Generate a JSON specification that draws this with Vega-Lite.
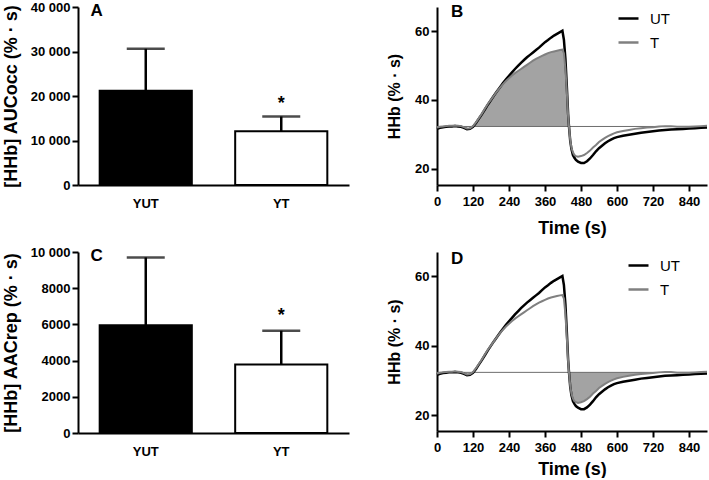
{
  "$schema": "https://vega.github.io/schema/vega-lite/v6.json",
  "padding": {"left": 2, "top": 1, "right": 2, "bottom": 0},
  "background": "white",
  "datasets": {
    "auc": [
      {"group": "YUT", "mean": 21200, "upper": 30600, "sig": ""},
      {"group": "YT", "mean": 12100, "upper": 15400, "sig": "*"}
    ],
    "aac": [
      {"group": "YUT", "mean": 5950, "upper": 9700, "sig": ""},
      {"group": "YT", "mean": 3780, "upper": 5650, "sig": "*"}
    ],
    "hhb": [
      {"t": 0, "UT": 31.6, "T": 32.0},
      {"t": 10, "UT": 31.9, "T": 32.2},
      {"t": 20, "UT": 32.1, "T": 32.3},
      {"t": 30, "UT": 32.2, "T": 32.4},
      {"t": 40, "UT": 32.3, "T": 32.5},
      {"t": 50, "UT": 32.3, "T": 32.5},
      {"t": 60, "UT": 32.4, "T": 32.6},
      {"t": 70, "UT": 32.3, "T": 32.5},
      {"t": 80, "UT": 32.2, "T": 32.4},
      {"t": 90, "UT": 31.9, "T": 32.1},
      {"t": 100, "UT": 31.5, "T": 31.7},
      {"t": 110, "UT": 31.6, "T": 31.8},
      {"t": 120, "UT": 32.2, "T": 32.4},
      {"t": 130, "UT": 33.3, "T": 33.5},
      {"t": 140, "UT": 34.6, "T": 34.8},
      {"t": 150, "UT": 35.9, "T": 36.1},
      {"t": 160, "UT": 37.3, "T": 37.5},
      {"t": 170, "UT": 38.7, "T": 38.9},
      {"t": 180, "UT": 40.0, "T": 40.1},
      {"t": 190, "UT": 41.3, "T": 41.3},
      {"t": 200, "UT": 42.5, "T": 42.5},
      {"t": 210, "UT": 43.7, "T": 43.6},
      {"t": 220, "UT": 44.9, "T": 44.6},
      {"t": 230, "UT": 46.0, "T": 45.5},
      {"t": 240, "UT": 47.0, "T": 46.3},
      {"t": 250, "UT": 48.0, "T": 47.1},
      {"t": 260, "UT": 49.0, "T": 47.8},
      {"t": 270, "UT": 49.9, "T": 48.4},
      {"t": 280, "UT": 50.8, "T": 49.0},
      {"t": 290, "UT": 51.6, "T": 49.6},
      {"t": 300, "UT": 52.4, "T": 50.2},
      {"t": 310, "UT": 53.1, "T": 50.8},
      {"t": 320, "UT": 53.8, "T": 51.4},
      {"t": 330, "UT": 54.5, "T": 51.9},
      {"t": 340, "UT": 55.2, "T": 52.4},
      {"t": 350, "UT": 56.0, "T": 52.8},
      {"t": 360, "UT": 56.8, "T": 53.2},
      {"t": 370, "UT": 57.4, "T": 53.6},
      {"t": 380, "UT": 58.1, "T": 53.9},
      {"t": 390, "UT": 58.7, "T": 54.1},
      {"t": 400, "UT": 59.2, "T": 54.3},
      {"t": 410, "UT": 59.7, "T": 54.5},
      {"t": 418, "UT": 60.1, "T": 54.6},
      {"t": 423, "UT": 57.5, "T": 53.6},
      {"t": 428, "UT": 52.0, "T": 49.0},
      {"t": 433, "UT": 43.5, "T": 42.0},
      {"t": 437, "UT": 36.0, "T": 35.5},
      {"t": 440, "UT": 32.3, "T": 32.3},
      {"t": 444, "UT": 28.2, "T": 28.5},
      {"t": 448, "UT": 25.8, "T": 26.2},
      {"t": 453, "UT": 24.0, "T": 24.8},
      {"t": 458, "UT": 23.2, "T": 24.0},
      {"t": 463, "UT": 22.6, "T": 23.7},
      {"t": 470, "UT": 22.1, "T": 23.5},
      {"t": 480, "UT": 21.7, "T": 23.7},
      {"t": 490, "UT": 21.7, "T": 24.0},
      {"t": 500, "UT": 22.2, "T": 24.6},
      {"t": 510, "UT": 23.0, "T": 25.3},
      {"t": 520, "UT": 24.0, "T": 26.2},
      {"t": 530, "UT": 25.1, "T": 26.9},
      {"t": 540, "UT": 26.0, "T": 27.8},
      {"t": 550, "UT": 26.7, "T": 28.4},
      {"t": 560, "UT": 27.4, "T": 29.0},
      {"t": 570, "UT": 28.0, "T": 29.5},
      {"t": 580, "UT": 28.5, "T": 29.9},
      {"t": 590, "UT": 28.9, "T": 30.3},
      {"t": 600, "UT": 29.2, "T": 30.6},
      {"t": 620, "UT": 29.6, "T": 31.0},
      {"t": 640, "UT": 29.9, "T": 31.3},
      {"t": 660, "UT": 30.2, "T": 31.6},
      {"t": 680, "UT": 30.5, "T": 31.8},
      {"t": 700, "UT": 30.7, "T": 32.0},
      {"t": 720, "UT": 30.9, "T": 32.1},
      {"t": 740, "UT": 31.1, "T": 32.3},
      {"t": 760, "UT": 31.3, "T": 32.4},
      {"t": 780, "UT": 31.4, "T": 32.4},
      {"t": 800, "UT": 31.5, "T": 32.2},
      {"t": 820, "UT": 31.6, "T": 32.2},
      {"t": 840, "UT": 31.7, "T": 32.2},
      {"t": 860, "UT": 31.8, "T": 32.3},
      {"t": 880, "UT": 31.9, "T": 32.4},
      {"t": 900, "UT": 32.0, "T": 32.5}
    ]
  },
  "spacing": -4,
  "resolve": {"scale": {"color": "independent"}, "legend": {"color": "independent"}},
  "vconcat": [
    {
      "spacing": 37,
      "resolve": {"scale": {"color": "independent"}, "legend": {"color": "independent"}},
      "hconcat": [
        {
          "width": 271,
          "height": 178,
          "data": {"name": "auc"},
          "encoding": {
            "x": {"field": "group", "type": "nominal", "sort": ["YUT", "YT"], "scale": {"paddingInner": 0.32, "paddingOuter": 0.16},
                  "axis": {"title": null, "labelAngle": 0, "ticks": false, "labelPadding": 12}}
          },
          "layer": [
            {
              "mark": {"type": "bar", "stroke": "black", "strokeWidth": 2},
              "encoding": {
                "y": {"field": "mean", "type": "quantitative", "scale": {"domain": [0, 40000], "nice": false},
                      "axis": {"title": "[HHb] AUCocc (% · s)", "titleFontSize": 18, "titlePadding": 10, "values": [0, 10000, 20000, 30000, 40000], "labelOverlap": false,
                               "labelExpr": "datum.value >= 10000 ? replace(format(datum.value, ','), ',', ' ') : format(datum.value, 'd')"}},
                "fill": {"field": "group", "type": "nominal", "scale": {"domain": ["YUT", "YT"], "range": ["black", "white"]}, "legend": null}
              }
            },
            {
              "mark": {"type": "rule", "color": "black", "strokeWidth": 2.5},
              "encoding": {"y": {"field": "mean", "type": "quantitative", "axis": {"title": "[HHb] AUCocc (% · s)", "titleFontSize": 18, "titlePadding": 10, "values": [0, 10000, 20000, 30000, 40000], "labelOverlap": false,
                               "labelExpr": "datum.value >= 10000 ? replace(format(datum.value, ','), ',', ' ') : format(datum.value, 'd')"}}, "y2": {"field": "upper"}}
            },
            {
              "mark": {"type": "tick", "color": "black", "thickness": 2.5, "size": 38},
              "encoding": {"y": {"field": "upper", "type": "quantitative", "axis": {"title": "[HHb] AUCocc (% · s)", "titleFontSize": 18, "titlePadding": 10, "values": [0, 10000, 20000, 30000, 40000], "labelOverlap": false,
                               "labelExpr": "datum.value >= 10000 ? replace(format(datum.value, ','), ',', ' ') : format(datum.value, 'd')"}}}
            },
            {
              "mark": {"type": "text", "fontSize": 18, "fontWeight": "bold", "font": "Liberation Sans", "baseline": "alphabetic", "dy": -7, "color": "black"},
              "encoding": {"y": {"field": "upper", "type": "quantitative", "axis": {"title": "[HHb] AUCocc (% · s)", "titleFontSize": 18, "titlePadding": 10, "values": [0, 10000, 20000, 30000, 40000], "labelOverlap": false,
                               "labelExpr": "datum.value >= 10000 ? replace(format(datum.value, ','), ',', ' ') : format(datum.value, 'd')"}}, "text": {"field": "sig"}}
            },
            {
              "transform": [{"filter": "datum.group == 'YUT'"}],
              "mark": {"type": "text", "text": "A", "fontSize": 17, "fontWeight": "bold", "font": "Liberation Sans", "align": "center", "baseline": "top", "dx": -3, "dy": -4, "color": "black"},
              "encoding": {"x": {"datum": "YUT", "bandPosition": 0}, "y": {"datum": 40000, "type": "quantitative", "axis": {"title": "[HHb] AUCocc (% · s)", "titleFontSize": 18, "titlePadding": 10, "values": [0, 10000, 20000, 30000, 40000], "labelOverlap": false,
                               "labelExpr": "datum.value >= 10000 ? replace(format(datum.value, ','), ',', ' ') : format(datum.value, 'd')"}}}
            }
          ]
        },
        {
          "width": 270,
          "height": 178,
          "data": {"name": "hhb"},
          "layer": [
            {
              "transform": [{"filter": "datum.t >= 120 && datum.t <= 440"}],
              "mark": {"type": "area", "color": "#a3a3a3"},
              "encoding": {
                "x": {"field": "t", "type": "quantitative", "scale": {"domain": [0, 900], "nice": false},
                      "axis": {"title": "Time (s)", "titleFontSize": 18, "titlePadding": 11, "values": [0, 120, 240, 360, 480, 600, 720, 840], "labelPadding": 4, "labelOverlap": false}},
                "y": {"field": "T", "type": "quantitative", "scale": {"domain": [15.3, 67], "nice": false},
                      "axis": {"title": "HHb (% · s)", "titleFontSize": 16, "titlePadding": 12, "values": [20, 40, 60], "labelOverlap": false}},
                "y2": {"datum": 32.3}
              }
            },
            {
              "transform": [{"filter": "datum.t == 0"}],
              "mark": {"type": "rule", "color": "#6e6e6e", "strokeWidth": 1},
              "encoding": {"y": {"datum": 32.3, "type": "quantitative",
                      "axis": {"title": "HHb (% · s)", "titleFontSize": 16, "titlePadding": 12, "values": [20, 40, 60], "labelOverlap": false}}}
            },
            {
              "transform": [{"fold": ["UT", "T"], "as": ["cond", "hhb"]}],
              "mark": {"type": "line"},
              "encoding": {
                "x": {"field": "t", "type": "quantitative", "scale": {"domain": [0, 900], "nice": false},
                      "axis": {"title": "Time (s)", "titleFontSize": 18, "titlePadding": 11, "values": [0, 120, 240, 360, 480, 600, 720, 840], "labelPadding": 4, "labelOverlap": false}},
                "y": {"field": "hhb", "type": "quantitative", "scale": {"domain": [15.3, 67], "nice": false},
                      "axis": {"title": "HHb (% · s)", "titleFontSize": 16, "titlePadding": 12, "values": [20, 40, 60], "labelOverlap": false}},
                "strokeWidth": {"field": "cond", "type": "nominal", "scale": {"domain": ["UT", "T"], "range": [2.5, 2]}, "legend": null},
                "color": {"field": "cond", "type": "nominal", "scale": {"domain": ["UT", "T"], "range": ["black", "#808080"]},
                          "legend": {"title": null, "orient": "none", "legendX": 180, "legendY": 0, "symbolType": "stroke", "symbolSize": 400, "symbolStrokeWidth": 2.5,
                                     "labelFontSize": 15, "labelFont": "Liberation Sans", "labelColor": "black", "labelOffset": 10, "rowPadding": 4}}
              }
            },
            {
              "transform": [{"filter": "datum.t == 0"}],
              "mark": {"type": "text", "text": "B", "fontSize": 17, "fontWeight": "bold", "font": "Liberation Sans", "align": "left", "baseline": "top", "dx": 14, "dy": -3, "color": "black"},
              "encoding": {
                "x": {"datum": 0, "type": "quantitative",
                      "axis": {"title": "Time (s)", "titleFontSize": 18, "titlePadding": 11, "values": [0, 120, 240, 360, 480, 600, 720, 840], "labelPadding": 4, "labelOverlap": false}},
                "y": {"datum": 67, "type": "quantitative",
                      "axis": {"title": "HHb (% · s)", "titleFontSize": 16, "titlePadding": 12, "values": [20, 40, 60], "labelOverlap": false}}}
            }
          ]
        }
      ]
    },
    {
      "spacing": 37,
      "resolve": {"scale": {"color": "independent"}, "legend": {"color": "independent"}},
      "hconcat": [
        {
          "width": 271,
          "height": 181,
          "data": {"name": "aac"},
          "encoding": {
            "x": {"field": "group", "type": "nominal", "sort": ["YUT", "YT"], "scale": {"paddingInner": 0.32, "paddingOuter": 0.16},
                  "axis": {"title": null, "labelAngle": 0, "ticks": false, "labelPadding": 12}}
          },
          "layer": [
            {
              "mark": {"type": "bar", "stroke": "black", "strokeWidth": 2},
              "encoding": {
                "y": {"field": "mean", "type": "quantitative", "scale": {"domain": [0, 10000], "nice": false},
                      "axis": {"title": "[HHb] AACrep (% · s)", "titleFontSize": 18, "titlePadding": 10, "values": [0, 2000, 4000, 6000, 8000, 10000], "labelOverlap": false,
                               "labelExpr": "datum.value >= 10000 ? replace(format(datum.value, ','), ',', ' ') : format(datum.value, 'd')"}},
                "fill": {"field": "group", "type": "nominal", "scale": {"domain": ["YUT", "YT"], "range": ["black", "white"]}, "legend": null}
              }
            },
            {
              "mark": {"type": "rule", "color": "black", "strokeWidth": 2.5},
              "encoding": {"y": {"field": "mean", "type": "quantitative", "axis": {"title": "[HHb] AACrep (% · s)", "titleFontSize": 18, "titlePadding": 10, "values": [0, 2000, 4000, 6000, 8000, 10000], "labelOverlap": false,
                               "labelExpr": "datum.value >= 10000 ? replace(format(datum.value, ','), ',', ' ') : format(datum.value, 'd')"}}, "y2": {"field": "upper"}}
            },
            {
              "mark": {"type": "tick", "color": "black", "thickness": 2.5, "size": 38},
              "encoding": {"y": {"field": "upper", "type": "quantitative", "axis": {"title": "[HHb] AACrep (% · s)", "titleFontSize": 18, "titlePadding": 10, "values": [0, 2000, 4000, 6000, 8000, 10000], "labelOverlap": false,
                               "labelExpr": "datum.value >= 10000 ? replace(format(datum.value, ','), ',', ' ') : format(datum.value, 'd')"}}}
            },
            {
              "mark": {"type": "text", "fontSize": 18, "fontWeight": "bold", "font": "Liberation Sans", "baseline": "alphabetic", "dy": -10, "color": "black"},
              "encoding": {"y": {"field": "upper", "type": "quantitative", "axis": {"title": "[HHb] AACrep (% · s)", "titleFontSize": 18, "titlePadding": 10, "values": [0, 2000, 4000, 6000, 8000, 10000], "labelOverlap": false,
                               "labelExpr": "datum.value >= 10000 ? replace(format(datum.value, ','), ',', ' ') : format(datum.value, 'd')"}}, "text": {"field": "sig"}}
            },
            {
              "transform": [{"filter": "datum.group == 'YUT'"}],
              "mark": {"type": "text", "text": "C", "fontSize": 17, "fontWeight": "bold", "font": "Liberation Sans", "align": "center", "baseline": "top", "dx": -3, "dy": -4, "color": "black"},
              "encoding": {"x": {"datum": "YUT", "bandPosition": 0}, "y": {"datum": 10000, "type": "quantitative", "axis": {"title": "[HHb] AACrep (% · s)", "titleFontSize": 18, "titlePadding": 10, "values": [0, 2000, 4000, 6000, 8000, 10000], "labelOverlap": false,
                               "labelExpr": "datum.value >= 10000 ? replace(format(datum.value, ','), ',', ' ') : format(datum.value, 'd')"}}}
            }
          ]
        },
        {
          "width": 270,
          "height": 179,
          "data": {"name": "hhb"},
          "layer": [
            {
              "transform": [{"filter": "datum.t >= 440 && datum.t <= 740"}],
              "mark": {"type": "area", "color": "#a3a3a3"},
              "encoding": {
                "x": {"field": "t", "type": "quantitative", "scale": {"domain": [0, 900], "nice": false},
                      "axis": {"title": "Time (s)", "titleFontSize": 18, "titlePadding": 6, "values": [0, 120, 240, 360, 480, 600, 720, 840], "labelPadding": 4, "labelOverlap": false}},
                "y": {"field": "T", "type": "quantitative", "scale": {"domain": [15.4, 67], "nice": false},
                      "axis": {"title": "HHb (% · s)", "titleFontSize": 16, "titlePadding": 12, "values": [20, 40, 60], "labelOverlap": false}},
                "y2": {"datum": 32.3}
              }
            },
            {
              "transform": [{"filter": "datum.t == 0"}],
              "mark": {"type": "rule", "color": "#6e6e6e", "strokeWidth": 1},
              "encoding": {"y": {"datum": 32.3, "type": "quantitative",
                      "axis": {"title": "HHb (% · s)", "titleFontSize": 16, "titlePadding": 12, "values": [20, 40, 60], "labelOverlap": false}}}
            },
            {
              "transform": [{"fold": ["UT", "T"], "as": ["cond", "hhb"]}],
              "mark": {"type": "line"},
              "encoding": {
                "x": {"field": "t", "type": "quantitative", "scale": {"domain": [0, 900], "nice": false},
                      "axis": {"title": "Time (s)", "titleFontSize": 18, "titlePadding": 6, "values": [0, 120, 240, 360, 480, 600, 720, 840], "labelPadding": 4, "labelOverlap": false}},
                "y": {"field": "hhb", "type": "quantitative", "scale": {"domain": [15.4, 67], "nice": false},
                      "axis": {"title": "HHb (% · s)", "titleFontSize": 16, "titlePadding": 12, "values": [20, 40, 60], "labelOverlap": false}},
                "strokeWidth": {"field": "cond", "type": "nominal", "scale": {"domain": ["UT", "T"], "range": [2.5, 2]}, "legend": null},
                "color": {"field": "cond", "type": "nominal", "scale": {"domain": ["UT", "T"], "range": ["black", "#808080"]},
                          "legend": {"title": null, "orient": "none", "legendX": 190, "legendY": 2, "symbolType": "stroke", "symbolSize": 400, "symbolStrokeWidth": 2.5,
                                     "labelFontSize": 15, "labelFont": "Liberation Sans", "labelColor": "black", "labelOffset": 10, "rowPadding": 4}}
              }
            },
            {
              "transform": [{"filter": "datum.t == 0"}],
              "mark": {"type": "text", "text": "D", "fontSize": 17, "fontWeight": "bold", "font": "Liberation Sans", "align": "left", "baseline": "top", "dx": 14, "dy": -1, "color": "black"},
              "encoding": {
                "x": {"datum": 0, "type": "quantitative",
                      "axis": {"title": "Time (s)", "titleFontSize": 18, "titlePadding": 6, "values": [0, 120, 240, 360, 480, 600, 720, 840], "labelPadding": 4, "labelOverlap": false}},
                "y": {"datum": 67, "type": "quantitative",
                      "axis": {"title": "HHb (% · s)", "titleFontSize": 16, "titlePadding": 12, "values": [20, 40, 60], "labelOverlap": false}}}
            }
          ]
        }
      ]
    }
  ],
  "config": {
    "view": {"stroke": null},
    "font": "Liberation Sans",
    "axis": {
      "grid": false,
      "domainColor": "black",
      "domainWidth": 2,
      "tickColor": "black",
      "tickWidth": 2,
      "tickSize": 6,
      "labelFont": "Liberation Sans",
      "labelFontWeight": "bold",
      "labelFontSize": 13,
      "labelColor": "black",
      "labelPadding": 2,
      "labelOverlap": false,
      "labelFlush": false,
      "titleFont": "Liberation Sans",
      "titleFontWeight": "bold",
      "titleColor": "black"
    }
  }
}
